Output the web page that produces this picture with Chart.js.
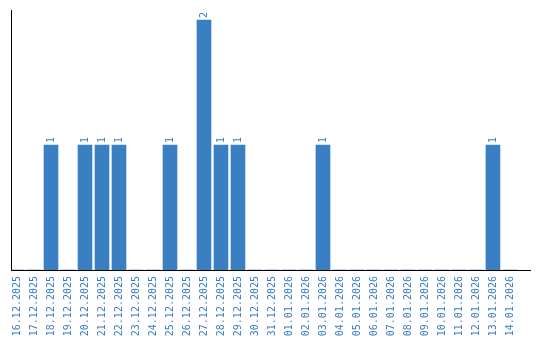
<!DOCTYPE html>
<html>
<head>
<meta charset="utf-8">
<script src="https://cdn.jsdelivr.net/npm/chart.js@4/dist/chart.umd.min.js"></script>
<style>
html,body{margin:0;padding:0;background:#fff;}
#wrap{width:540px;height:340px;position:relative;}
</style>
</head>
<body>
<div id="wrap"><canvas id="c" width="540" height="340"></canvas></div>
<script>
const dates = ["16.12.2025","17.12.2025","18.12.2025","19.12.2025","20.12.2025","21.12.2025","22.12.2025","23.12.2025","24.12.2025","25.12.2025","26.12.2025","27.12.2025","28.12.2025","29.12.2025","30.12.2025","31.12.2025","01.01.2026","02.01.2026","03.01.2026","04.01.2026","05.01.2026","06.01.2026","07.01.2026","08.01.2026","09.01.2026","10.01.2026","11.01.2026","12.01.2026","13.01.2026","14.01.2026"];
const counts = [0,0,1,0,1,1,1,0,0,1,0,2,1,1,0,0,0,0,1,0,0,0,0,0,0,0,0,0,1,0];

const BLUE = '#3b7fc3';
const TEXT = '#3a7cc0';
const FONT = "'DejaVu Sans Mono', 'Liberation Mono', monospace";

const labelPlugin = {
  id: 'barLabels',
  afterDatasetsDraw(chart) {
    const ctx = chart.ctx;
    const meta = chart.getDatasetMeta(0);
    ctx.save();
    ctx.fillStyle = TEXT;
    ctx.font = "10px " + FONT;
    ctx.textAlign = 'left';
    ctx.textBaseline = 'middle';
    meta.data.forEach((bar, i) => {
      const v = chart.data.datasets[0].data[i].y;
      if (!v) return;
      ctx.save();
      ctx.translate(bar.x, bar.y - 2);
      ctx.rotate(-Math.PI / 2);
      ctx.fillText(String(v), 0, 0);
      ctx.restore();
    });
    ctx.restore();
  }
};

new Chart(document.getElementById('c'), {
  type: 'bar',
  data: {
    datasets: [{
      data: counts.map((v, i) => ({x: i, y: v})),
      backgroundColor: BLUE,
      borderWidth: 0,
      barThickness: 14
    }]
  },
  options: {
    responsive: false,
    animation: false,
    layout: {padding: {left: 11, right: 10, top: 10, bottom: 0}},
    plugins: {legend: {display: false}, tooltip: {enabled: false}},
    scales: {
      x: {
        type: 'linear',
        min: -0.353,
        max: 30.18,
        offset: false,
        grid: {display: false, drawTicks: false},
        border: {display: true, color: '#000', width: 1},
        ticks: {
          stepSize: 1,
          includeBounds: false,
          autoSkip: false,
          maxRotation: 90,
          minRotation: 90,
          padding: 6,
          color: TEXT,
          font: {family: FONT, size: 10},
          callback: (v) => dates[v] !== undefined ? dates[v] : ''
        },
        afterFit: (s) => { s.height = 70; s.paddingLeft = 0; s.paddingRight = 0; }
      },
      y: {
        min: 0,
        max: 2.08,
        grid: {display: false, drawTicks: false},
        border: {display: true, color: '#000', width: 1},
        ticks: {display: false},
        afterFit: (s) => { s.width = 0; s.paddingTop = 0; s.paddingBottom = 0; }
      }
    }
  },
  plugins: [labelPlugin]
});
</script>
</body>
</html>
